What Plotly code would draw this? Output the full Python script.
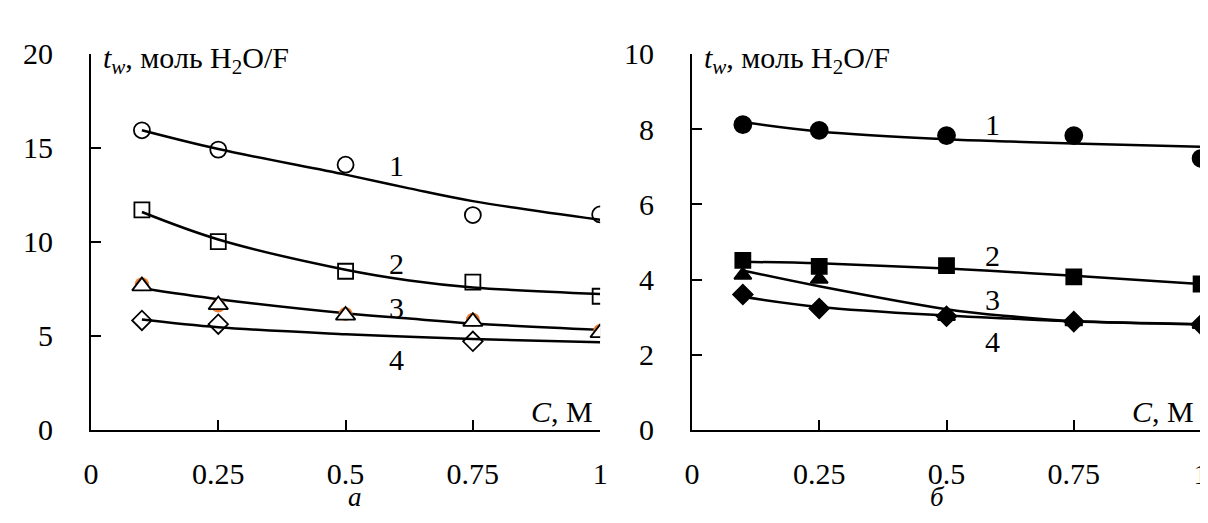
import plotly.graph_objects as go

# ---------------- data ----------------
conc = [0.1, 0.25, 0.5, 0.75, 1.0]

# panel a (open markers)
a1 = [15.94, 14.91, 14.11, 11.43, 11.46]
a2 = [11.71, 10.02, 8.44, 7.86, 7.11]
a3 = [7.65, 6.65, 6.09, 5.76, 5.16]
a3_orange = [7.75, 6.62, 6.17, 5.86, 5.26]
a4_x = [0.1, 0.25, 0.75]
a4 = [5.82, 5.62, 4.71]

# fitted curves, panel a
fit_x = [0.1, 0.25, 0.5, 0.625, 0.75, 1.0]
fa1 = [15.94, 14.94, 13.58, 12.85, 12.17, 11.18]
fa2 = [11.59, 10.13, 8.52, 7.95, 7.58, 7.23]
fa3 = [7.53, 6.95, 6.20, 5.92, 5.66, 5.32]
fa4 = [5.87, 5.46, 5.09, 4.95, 4.83, 4.66]

# panel b (filled markers)
b1 = [8.12, 7.97, 7.83, 7.83, 7.22]
b2 = [4.51, 4.35, 4.37, 4.07, 3.88]
b3 = [4.12, 4.01, 3.02, 2.88, 2.81]
b4 = [3.60, 3.23, 3.02, 2.88, 2.80]

fb1 = [8.19, 7.94, 7.73, 7.67, 7.62, 7.53]
fb2 = [4.47, 4.43, 4.29, 4.20, 4.10, 3.88]
fb3 = [4.24, 3.82, 3.21, 3.02, 2.89, 2.81]
fb4 = [3.54, 3.27, 3.04, 2.96, 2.89, 2.81]

labels = ["1", "2", "3", "4"]
lab_a_y = [14.04, 8.86, 6.53, 3.73]
lab_b_y = [8.13, 4.63, 3.48, 2.36]
lab_x_a = 0.60
lab_x_b = 0.59

xticks = [0, 0.25, 0.5, 0.75, 1]
xticktext = ["0", "0.25", "0.5", "0.75", "1"]
yticks_a = [0, 5, 10, 15, 20]
yticks_b = [0, 2, 4, 6, 8, 10]

FONT = "Liberation Serif"
fig = go.Figure()

def curve(x, y, xa, ya):
    fig.add_trace(go.Scatter(x=x, y=y, mode="lines", xaxis=xa, yaxis=ya,
                             line=dict(color="black", width=2.5, shape="spline"),
                             hoverinfo="skip", showlegend=False))

def pts(x, y, sym, size, xa, ya, color="black", lc="black", lw=1.8):
    fig.add_trace(go.Scatter(x=x, y=y, mode="markers", xaxis=xa, yaxis=ya,
                             marker=dict(symbol=sym, size=size, color=color,
                                         line=dict(color=lc, width=lw)),
                             showlegend=False))

# panel a
for f in (fa1, fa2, fa3, fa4):
    curve(fit_x, f, "x", "y")
pts(conc, a3_orange, "circle", 14, "x", "y", color="#ED7D31", lc="#ED7D31", lw=0)
pts(conc, a1, "circle-open", 16, "x", "y")
pts(conc, a2, "square-open", 15, "x", "y")
pts(conc, a3, "triangle-up", 17, "x", "y", color="white", lc="black", lw=1.8)
pts(a4_x, a4, "diamond-open", 15, "x", "y")

# panel b
for f in (fb1, fb2, fb3, fb4):
    curve(fit_x, f, "x2", "y2")
pts(conc, b1, "circle", 17, "x2", "y2")
pts(conc, b2, "square", 15, "x2", "y2")
pts(conc, b4, "diamond", 15, "x2", "y2")
pts(conc, b3, "triangle-up", 15, "x2", "y2")

ax_common = dict(showgrid=False, zeroline=False, showline=True, linecolor="black",
                 linewidth=2, ticks="inside", ticklen=10, tickwidth=2, tickcolor="black",
                 tickfont=dict(family=FONT, size=30, color="black"))

fig.update_layout(
    width=1208, height=523,
    margin=dict(l=0, r=0, t=0, b=0),
    paper_bgcolor="white", plot_bgcolor="white",
    xaxis=dict(domain=[76/1208, 592/1208], range=[0, 1], tickvals=xticks, ticktext=xticktext,
               anchor="y", ticklabelstandoff=16, **ax_common),
    yaxis=dict(domain=[(523-433)/523, (523-31)/523], range=[0, 20], tickvals=yticks_a,
               anchor="x", ticklabelstandoff=30, **ax_common),
    xaxis2=dict(domain=[685/1208, 1201/1208], range=[0, 1], tickvals=xticks, ticktext=xticktext,
                anchor="y2", ticklabelstandoff=16, **ax_common),
    yaxis2=dict(domain=[(523-433)/523, (523-31)/523], range=[0, 10], tickvals=yticks_b,
                anchor="x2", ticklabelstandoff=30, **ax_common),
)

ann = []
tfont = dict(family=FONT, size=30, color="black")
for i, t in enumerate(labels):
    ann.append(dict(x=lab_x_a, y=lab_a_y[i], xref="x", yref="y", text=t, showarrow=False, font=tfont))
    ann.append(dict(x=lab_x_b, y=lab_b_y[i], xref="x2", yref="y2", text=t, showarrow=False, font=tfont))

title_txt = "<i>t<sub>w</sub></i>, моль H<sub>2</sub>O/F"
for xr, yr in (("x", "y"), ("x2", "y2")):
    ann.append(dict(x=0.02, y=1.04, xref=f"{xr} domain", yref=f"{yr} domain", text=title_txt,
                    showarrow=False, xanchor="left", yanchor="top", font=tfont))
    ann.append(dict(x=0.99, y=0.0, xref=f"{xr} domain", yref=f"{yr} domain", text="<i>C</i>, М",
                    showarrow=False, xanchor="right", yanchor="bottom", font=tfont))

sub_font = dict(family=FONT, size=27, color="black")
ann.append(dict(x=334/1208, y=0, xref="paper", yref="paper", text="<i>а</i>",
                showarrow=False, yanchor="bottom", font=sub_font))
ann.append(dict(x=943/1208, y=0, xref="paper", yref="paper", text="<i>б</i>",
                showarrow=False, yanchor="bottom", font=sub_font))
fig.update_layout(annotations=ann)

fig.write_html("out.html")
